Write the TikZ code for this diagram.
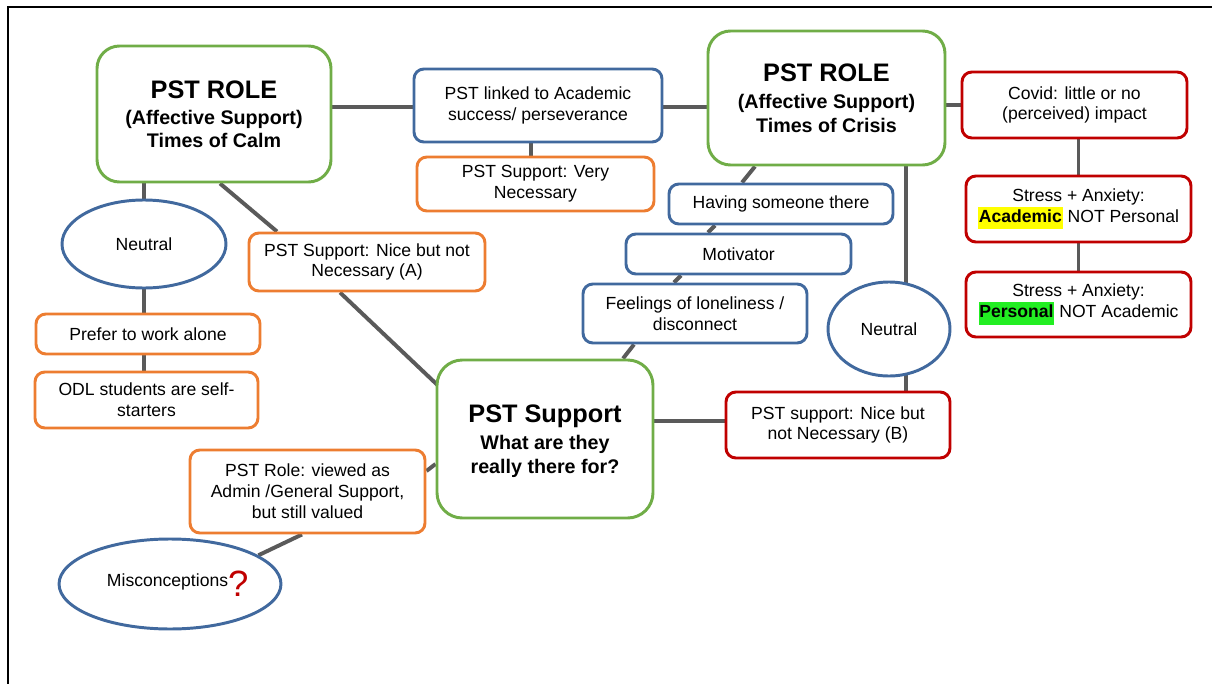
\documentclass[tikz,border=0pt]{standalone}
\usepackage{fontspec}
\setmainfont{Liberation Sans}
\usetikzlibrary{shapes.geometric,backgrounds,calc}

\definecolor{mgreen}{HTML}{70AD47}
\definecolor{mblue}{HTML}{41699E}
\definecolor{morange}{HTML}{ED7D31}
\definecolor{mred}{HTML}{C00000}
\definecolor{lgray}{HTML}{5A5A5A}
\definecolor{hlyellow}{HTML}{FFFF00}
\definecolor{hlgreen}{HTML}{22EE22}

\newcommand\ttlfont{\fontsize{18}{20}\selectfont\bfseries}
\newcommand\hl[2]{{\setlength{\fboxsep}{0.6pt}\colorbox{#1}{\strut\textbf{#2}}}}

\begin{document}
\begin{tikzpicture}[x=0.025cm,y=-0.025cm,
  sz/.style 2 args={minimum width=#1*0.025cm, minimum height=#2*0.025cm},
  basebox/.style={draw, fill=white, line width=2.1pt, inner sep=0pt, align=center,
    font=\fontsize{12.5}{14.8}\selectfont},
  bigbox/.style={basebox, draw=mgreen, rounded corners=16pt,
    font=\fontsize{14}{16.4}\selectfont\bfseries},
  bluebox/.style={basebox, draw=mblue, rounded corners=7pt},
  orangebox/.style={basebox, draw=morange, rounded corners=7pt},
  redbox/.style={basebox, draw=mred, rounded corners=7pt},
  oval/.style={basebox, draw=mblue, ellipse},
  conn/.style={draw=lgray, line width=2.8pt},
]
\useasboundingbox (0,0) rectangle (1212,684);

% frame lines
\draw[line width=1.8pt] (8,684) -- (8,7) -- (1212,7);

% main role boxes
\node[bigbox, sz={234}{136}] (calm) at (214,114)
  {{\ttlfont PST ROLE}\\[2pt](Affective Support)\\Times of Calm};
\node[bigbox, sz={237}{134}, text depth=-4pt] (crisis) at (826.5,98)
  {{\ttlfont PST ROLE}\\[3pt](Affective Support)\\Times of Crisis};
\node[bigbox, rounded corners=18pt, sz={216}{158}, text depth=-2pt] (pstsup) at (545,439)
  {{\ttlfont PST Support}\\[3pt]What are they\\really  there for?};

% top middle
\node[bluebox, sz={248}{73}] (linked) at (538,105.5)
  {PST linked to Academic\\success/ perseverance};
\node[orangebox, sz={237}{54}] (very) at (535.5,184)
  {PST Support: Very\\Necessary};

% right column
\node[redbox, sz={225}{66}] (covid) at (1074.5,105)
  {Covid: little or no\\(perceived) impact};
\node[redbox, sz={225}{66}] (stressA) at (1078.5,209)
  {Stress + Anxiety:\\\hl{hlyellow}{Academic} NOT Personal};
\node[redbox, sz={225}{65}] (stressP) at (1078.5,304.5)
  {Stress + Anxiety:\\\hl{hlgreen}{Personal} NOT Academic};

% left column
\node[oval, sz={164}{88}] (neutralL) at (144,244) {Neutral};
\node[orangebox, sz={236}{58}] (niceA) at (367,262)
  {PST Support: Nice but not\\Necessary (A)};
\node[orangebox, sz={224}{40}] (prefer) at (148,334) {Prefer to work alone};
\node[orangebox, sz={223}{56}] (odl) at (146.5,400)
  {ODL students are self-\\starters};
\node[orangebox, sz={235}{83}] (admin) at (307.5,491.5)
  {PST Role: viewed as\\Admin /General Support,\\but still valued};
\node[oval, sz={200}{90}] (misc) at (170,584)
  {\hspace*{11pt}Misconceptions{\color{mred}\fontsize{26}{26}\selectfont\raisebox{-7pt}{?}}};

% crisis chain
\node[bluebox, sz={224}{40}] (having) at (781,204) {Having  someone there};
\node[bluebox, sz={225}{40}] (motiv) at (738.5,254) {Motivator};
\node[bluebox, sz={224}{59}] (feel) at (695,313.5)
  {Feelings of loneliness /\\disconnect};
\node[oval, sz={122}{94}] (neutralR) at (889,329) {Neutral};
\node[redbox, sz={224}{66}] (niceB) at (838,425)
  {PST support: Nice but\\not Necessary (B)};

% anchor points for the vertical connectors
\coordinate (lv) at ($(linked.south)+(-7,0)$);
\coordinate (cn) at ($(crisis.south)+(79.5,0)$);
\coordinate (nb) at ($(niceB.north)+(68,0)$);

% connectors
\begin{pgfonlayer}{background}
  \draw[conn] (calm.east |- 0,107) -- (linked.west |- 0,107);
  \draw[conn] (linked.east |- 0,107) -- (crisis.west |- 0,107);
  \draw[conn] (lv) -- (lv |- very.north);
  \draw[conn] (covid.west -| crisis.east) -- (covid.west);
  \draw[conn] (stressA.north |- covid.south) -- (stressA.north);
  \draw[conn] (stressA.south) -- (stressP.north);

  \draw[conn] ($(calm.south)+(-70,0)$) -- (neutralL.north);
  \draw[conn] (neutralL.south) -- (neutralL.south |- prefer.north);
  \draw[conn] (prefer.south -| neutralL.south) -- (odl.north -| neutralL.south);
  \draw[conn] ($(calm.south)+(6,0)$) -- ($(niceA.north)+(-90,0)$);
  \draw[conn] ($(niceA.south)+(-27,0)$) -- ($(pstsup.west)+(3,-53)$);
  \draw[conn] ($(pstsup.west)+(0,25)$) -- ($(admin.east)+(0,-20.5)$);
  \draw[conn] ($(admin.south)+(-5.5,0)$) -- (misc.18);

  \draw[conn] ($(crisis.south)+(-71.5,0)$) -- ($(having.north)+(-39,0)$);
  \draw[conn] ($(having.south)+(-66,0)$) -- ($(motiv.north)+(-30.5,0)$);
  \draw[conn] ($(motiv.south)+(-57.5,0)$) -- ($(feel.north)+(-21,0)$);
  \draw[conn] ($(feel.south)+(-61,0)$) -- ($(pstsup.north)+(78,0)$);

  \draw[conn] (cn) -- (cn |- neutralR.center);
  \draw[conn] (nb |- neutralR.center) -- (nb);
  \draw[conn] ($(pstsup.east)+(0,-18)$) -- ($(niceB.west)+(0,-4)$);
\end{pgfonlayer}
\end{tikzpicture}
\end{document}
